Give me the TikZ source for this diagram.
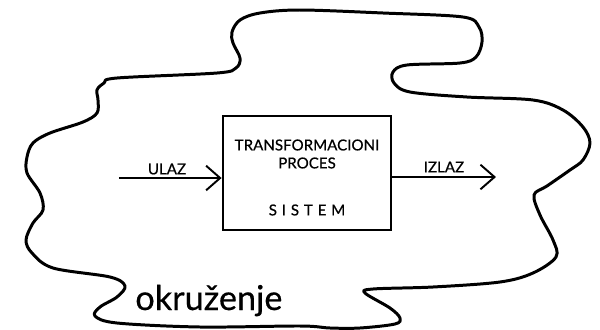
\documentclass[tikz,border=0pt]{standalone}
\usepackage{fontspec}
\setmainfont{Lato}
\newfontfamily\gillish{Lato}[FakeBold=0.5]
\usetikzlibrary{arrows.meta}
\begin{document}
\begin{tikzpicture}[x=0.02cm,y=-0.02cm,
  cloud/.style={line width=1.7pt,line join=round},
  sysbox/.style={draw,line width=1.6pt,minimum width=3.36cm,minimum height=2.28cm,inner sep=0pt},
  flow/.style={line width=1.1pt,-{Straight Barb[length=8pt,width=14pt,line width=1.1pt]}},
  lbl/.style={inner sep=0pt,font=\gillish\fontsize{8.6pt}{10pt}\selectfont},
  env/.style={inner sep=0pt,font=\gillish\fontsize{19.5pt}{22pt}\selectfont}]
\useasboundingbox (0,0) rectangle (600,329);
\draw[cloud] plot[smooth cycle,tension=0.55] coordinates {
 (300,10) (383,13) (463,17) (479,27) (482,42) (476,57) (460,63) (407,65)
 (393,72) (394,83) (410,92) (467,97) (533,100) (563,110) (583,127) (590,143)
 (583,160) (570,170) (547,186) (534,195) (540,215) (553,240) (556,257) (533,273)
 (500,282) (433,287) (373,289) (365,293) (390,308) (400,318) (395,324) (360,328)
 (330,328) (300,326) (200,327) (117,323) (95,316) (100,307) (117,297) (125,286)
 (110,277) (53,268) (32,253) (26,240) (33,223) (43,210) (40,193) (27,173)
 (27,157) (33,143) (50,133) (83,122) (97,113) (98,100) (97,90) (104,83)
 (117,78) (217,73) (236,68) (240,58) (233,43) (232,32) (240,20) (260,13)};
\node[sysbox] (sys) at (307,173) {};
\node[lbl] (t1) at (307,145) {TRANSFORMACIONI};
\node[lbl] (t2) at (307,163) {PROCES};
\node[lbl] (t3) at (307,210) {\addfontfeatures{LetterSpace=32}SISTEM};
\coordinate (ulazstart) at (119,178);
\coordinate (izlazend) at (496,177);
\draw[flow] (ulazstart) -- (sys.west |- ulazstart);
\draw[flow] (sys.east |- izlazend) -- (izlazend);
\node[lbl] (ulaz) at (167,169) {ULAZ};
\node[lbl] (izlaz) at (444,167) {IZLAZ};
\node[env,anchor=base west] (okr) at (135,310) {okruženje};
\end{tikzpicture}
\end{document}
